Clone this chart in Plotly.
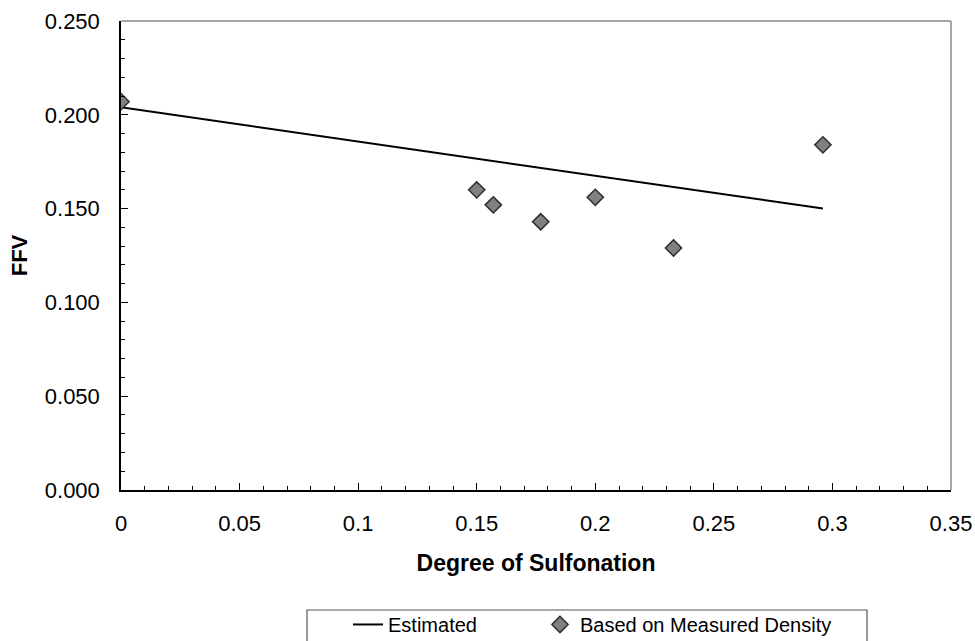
import plotly.graph_objects as go

# Degree of sulfonation for each membrane sample
dos = [0.0, 0.150, 0.157, 0.177, 0.200, 0.233, 0.296]
# Fractional free volume estimated by group contribution
ffv_estimated = [0.204, 0.1765, 0.1754, 0.1717, 0.1675, 0.1615, 0.150]
# Fractional free volume from measured density
ffv_measured = [0.207, 0.160, 0.152, 0.143, 0.156, 0.129, 0.184]

x_ticks = [0, 0.05, 0.1, 0.15, 0.2, 0.25, 0.3, 0.35]
y_ticks = [0.0, 0.05, 0.1, 0.15, 0.2, 0.25]

FONT = "Liberation Sans, Arial, sans-serif"

fig = go.Figure()
fig.add_trace(go.Scatter(
    x=dos, y=ffv_estimated, mode="lines", name="Estimated",
    line=dict(color="black", width=2),
    legend="legend",
))
fig.add_trace(go.Scatter(
    x=dos, y=ffv_measured, mode="markers", name="Based on Measured Density",
    marker=dict(symbol="diamond", size=12.5, color="#808080",
                line=dict(color="#2e2e2e", width=1.5)),
    legend="legend2",
))

axis_common = dict(
    showline=True, linecolor="black", linewidth=1.5,
    ticks="inside", ticklen=7, tickcolor="black", tickwidth=1,
    showgrid=False, zeroline=False, automargin=False,
    tickfont=dict(family=FONT, size=22, color="black"),
)

fig.update_xaxes(
    range=[0, 0.35], tickvals=x_ticks,
    ticktext=[f"{v:g}" for v in x_ticks],
    minor=dict(dtick=0.01, ticks="inside", ticklen=4, tickcolor="black"),
    ticklabelstandoff=13,
    title=dict(text="<b>Degree of Sulfonation</b>", standoff=20,
               font=dict(family=FONT, size=23, color="black")),
    **axis_common,
)
fig.update_yaxes(
    range=[0, 0.25], tickvals=y_ticks, tickformat=".3f",
    minor=dict(dtick=0.01, ticks="inside", ticklen=4, tickcolor="black"),
    ticklabelstandoff=15,
    title=dict(text="<b>FFV</b>", standoff=11,
               font=dict(family=FONT, size=22, color="black")),
    **axis_common,
)

legend_common = dict(
    orientation="h", xanchor="left", yref="container", yanchor="top",
    font=dict(family=FONT, size=20, color="black"),
    bgcolor="rgba(0,0,0,0)", borderwidth=0,
)

fig.update_layout(
    width=975, height=641,
    margin=dict(l=121, r=24, t=21, b=151),
    paper_bgcolor="white", plot_bgcolor="white",
    font=dict(family=FONT, color="black"),
    showlegend=True,
    legend=dict(x=0.2735, y=0.0562, **legend_common),
    legend2=dict(x=0.5048, y=0.0562, **legend_common),
    shapes=[
        # top and right frame of the plot area
        dict(type="line", xref="paper", yref="paper", x0=0, x1=1, y0=1, y1=1,
             line=dict(color="#8a8a8a", width=1.5)),
        dict(type="line", xref="paper", yref="paper", x0=1, x1=1, y0=0, y1=1,
             line=dict(color="#8a8a8a", width=1.5)),
        # legend frame
        dict(type="rect", xref="paper", yref="paper",
             x0=0.2241, x1=0.8988, y0=-0.2559, y1=-0.34,
             line=dict(color="#555555", width=1.2)),
    ],
)

fig.write_html("out.html")
